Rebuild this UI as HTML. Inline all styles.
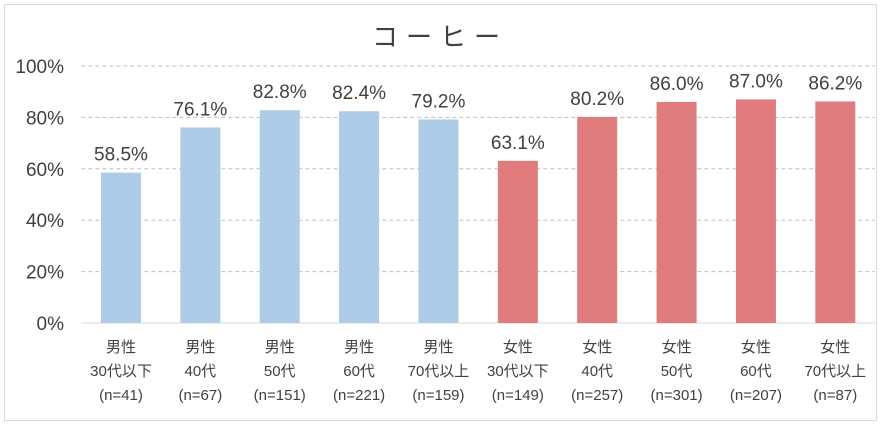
<!DOCTYPE html>
<html><head><meta charset="utf-8">
<style>
body{margin:0;background:#fff;}
svg text{font-family:"Liberation Sans","Noto Sans CJK JP",sans-serif;fill:#404040;}
</style></head>
<body>
<svg id="chart" width="883" height="429" xmlns="http://www.w3.org/2000/svg">
<rect x="4.5" y="4.5" width="872" height="416" fill="#fff" stroke="#d9d9d9"/>
<text x="440" y="46" font-size="26" text-anchor="middle" letter-spacing="8">コーヒー</text>
<g id="grid"></g><g id="bars"></g><g id="labels"></g>
</svg>
<script>
const genders = ["男性","男性","男性","男性","男性","女性","女性","女性","女性","女性"];
const ages = ["30代以下","40代","50代","60代","70代以上","30代以下","40代","50代","60代","70代以上"];
const counts = ["(n=41)","(n=67)","(n=151)","(n=221)","(n=159)","(n=149)","(n=257)","(n=301)","(n=207)","(n=87)"];
const values = [58.5,76.1,82.8,82.4,79.2,63.1,80.2,86.0,87.0,86.2];
const ticks = [0,20,40,60,80,100];
const ns="http://www.w3.org/2000/svg";
const x0=81.3, x1=875, y0=323, y1=66;
const bw=(x1-x0)/values.length;
const y=v=>y0-(v/100)*(y0-y1);
const cx=i=>x0+bw*(i+0.5);
function mk(t,a,p){const e=document.createElementNS(ns,t);for(const k in a)e.setAttribute(k,a[k]);(p||document.getElementById('chart')).appendChild(e);return e;}
const grid=document.getElementById('grid'),bars=document.getElementById('bars'),labels=document.getElementById('labels');
ticks.forEach(t=>{
  if(t>0){const l=mk('line',{x1:x0,x2:x1,y1:y(t),y2:y(t),stroke:'#bfbfbf','stroke-dasharray':'4,3'},grid);
  
  }
  const tx=mk('text',{x:64,y:y(t)+7,'font-size':19,'text-anchor':'end'},grid);tx.textContent=t+'%';
  
  
});
const ax=mk('line',{x1:x0,x2:x1,y1:y0,y2:y0,stroke:'#d9d9d9'},grid);


values.forEach((v,i)=>{
  const r=mk('rect',{x:cx(i)-20,y:y(v),width:40,height:y0-y(v),fill:i<5?'#aecbe8':'#e07c7e'},bars);
  
  
  const t=mk('text',{x:cx(i),y:y(v)-12,'font-size':19,'text-anchor':'middle'},labels);t.textContent=v.toFixed(1)+'%';
  
  
  [genders[i],ages[i],counts[i]].forEach((s,j)=>{
    const c=mk('text',{x:cx(i),y:352+j*24,'font-size':15,'text-anchor':'middle'},labels);c.textContent=s;
    
    
  });
});
</script>
</body></html>
